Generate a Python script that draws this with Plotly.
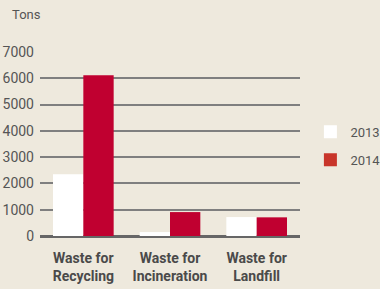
import plotly.graph_objects as go

categories = ["Waste for<br>Recycling", "Waste for<br>Incineration", "Waste for<br>Landfill"]
series_names = ["2013", "2014"]
values_2013 = [2350, 150, 720]
values_2014 = [6120, 910, 710]
y_ticks = [0, 1000, 2000, 3000, 4000, 5000, 6000, 7000]

FONT = "Roboto, sans-serif"
BG = "#EEE9DD"
TXT = "#555555"

fig = go.Figure()
fig.add_trace(go.Bar(x=categories, y=values_2013, name=series_names[0],
                     marker=dict(color="#FFFFFF", line=dict(width=0)), showlegend=False))
fig.add_trace(go.Bar(x=categories, y=values_2014, name=series_names[1],
                     marker=dict(color="#C00030", line=dict(width=0)), showlegend=False))
# legend entries
fig.add_trace(go.Scatter(x=[None], y=[None], mode="markers", name=series_names[0],
                         marker=dict(symbol="square", size=13, color="#FFFFFF"),
                         legendgroup="a"))
fig.add_trace(go.Scatter(x=[None], y=[None], mode="markers", name=series_names[1],
                         marker=dict(symbol="square", size=13, color="#C8352A"),
                         legendgroup="b"))

fig.update_layout(
    width=380, height=289,
    paper_bgcolor=BG, plot_bgcolor=BG,
    margin=dict(l=40, r=80, t=52, b=53, autoexpand=False),
    barmode="group", bargap=0.30, bargroupgap=0,
    font=dict(family=FONT, size=14, color=TXT),
    legend=dict(x=1.04, xanchor="left", y=0.49, yanchor="middle",
                bgcolor="rgba(0,0,0,0)", font=dict(size=13, color=TXT),
                tracegroupgap=8, traceorder="grouped", itemwidth=30),
    annotations=[dict(text="Tons", xref="paper", yref="paper", x=-0.115, y=1.205,
                      xanchor="left", yanchor="middle", showarrow=False,
                      font=dict(size=13, color=TXT))],
)
fig.update_yaxes(range=[0, 7000], tickvals=y_ticks, showgrid=True,
                 gridcolor="#7F7F7F", gridwidth=1.5, zeroline=True,
                 zerolinecolor="#666666", zerolinewidth=2.5,
                 ticks="", ticklabelstandoff=5, tickfont=dict(size=14, color=TXT),
                 fixedrange=True, automargin=False)
fig.update_xaxes(showgrid=False, showline=False, ticks="", tickangle=0,
                 automargin=False, ticklabelstandoff=12, fixedrange=True,
                 tickfont=dict(size=14, color="#4A4A4A", weight="bold"))

fig.write_html("out.html", config={"displayModeBar": False},
               post_script="document.body.style.margin='0';")
